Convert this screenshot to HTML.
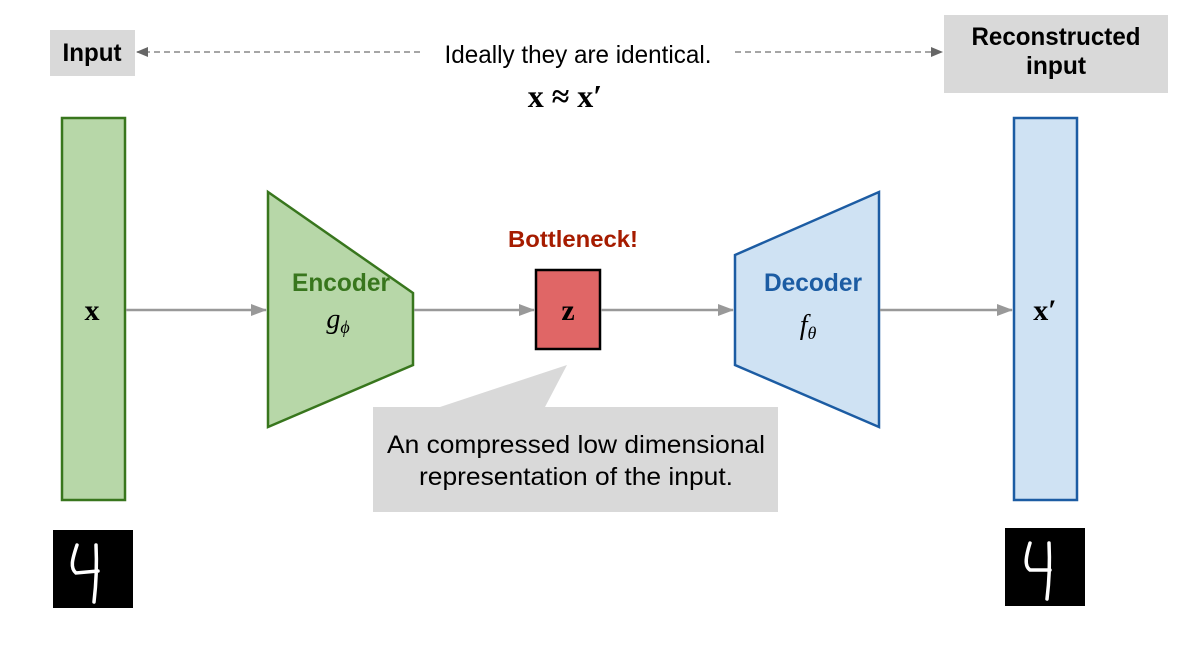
<!DOCTYPE html>
<html><head><style>
body{margin:0;background:#fff;width:1200px;height:647px;overflow:hidden}
svg text{font-family:"Liberation Sans",sans-serif}
.m{font-family:"Liberation Serif",serif}
</style></head><body>
<svg width="1200" height="647" viewBox="0 0 1200 647" xmlns="http://www.w3.org/2000/svg">
<defs>
<marker id="a" markerWidth="16" markerHeight="14" refX="15" refY="7" orient="auto" markerUnits="userSpaceOnUse"><path d="M0,1 L16,7 L0,13 z" fill="#999"/></marker>
<marker id="b" markerWidth="12" markerHeight="12" refX="11" refY="6" orient="auto" markerUnits="userSpaceOnUse"><path d="M0,1 L12,6 L0,11 z" fill="#666"/></marker>
</defs>
<rect x="50" y="30" width="85" height="46" fill="#d9d9d9"/>
<text x="92" y="61" text-anchor="middle" font-size="25" font-weight="bold" textLength="59" lengthAdjust="spacingAndGlyphs">Input</text>
<rect x="944" y="15" width="224" height="78" fill="#d9d9d9"/>
<text x="1056" y="45" text-anchor="middle" font-size="25" font-weight="bold" textLength="169" lengthAdjust="spacingAndGlyphs">Reconstructed</text>
<text x="1056" y="74" text-anchor="middle" font-size="25" font-weight="bold" textLength="60" lengthAdjust="spacingAndGlyphs">input</text>
<line x1="420" y1="52" x2="137" y2="52" stroke="#888" stroke-width="1.5" stroke-dasharray="6,4" marker-end="url(#b)"/>
<line x1="735" y1="52" x2="942" y2="52" stroke="#888" stroke-width="1.5" stroke-dasharray="6,4" marker-end="url(#b)"/>
<text x="578" y="63" text-anchor="middle" font-size="25" textLength="267" lengthAdjust="spacingAndGlyphs">Ideally they are identical.</text>
<text x="565" y="107" text-anchor="middle" font-size="32" font-weight="bold" class="m">x ≈ x′</text>
<rect x="62" y="118" width="63" height="382" fill="#b7d7a8" stroke="#38761d" stroke-width="2.5"/>
<text x="92" y="320" text-anchor="middle" font-size="30" font-weight="bold" class="m">x</text>
<rect x="1014" y="118" width="63" height="382" fill="#cfe2f3" stroke="#1c5ca3" stroke-width="2.5"/>
<text x="1045" y="320" text-anchor="middle" font-size="30" font-weight="bold" class="m">x′</text>
<polygon points="268,192 413,293 413,365 268,427" fill="#b7d7a8" stroke="#38761d" stroke-width="2.5"/>
<text x="341" y="291" text-anchor="middle" font-size="25" font-weight="bold" fill="#38761d" textLength="98" lengthAdjust="spacingAndGlyphs">Encoder</text>
<text x="338" y="328" text-anchor="middle" font-size="28" font-style="italic" class="m">g<tspan font-size="18" dy="5">ϕ</tspan></text>
<polygon points="735,255 879,192 879,427 735,365" fill="#cfe2f3" stroke="#1c5ca3" stroke-width="2.5"/>
<text x="813" y="291" text-anchor="middle" font-size="25" font-weight="bold" fill="#1c5ca3" textLength="98" lengthAdjust="spacingAndGlyphs">Decoder</text>
<text x="808" y="334" text-anchor="middle" font-size="28" font-style="italic" class="m">f<tspan font-size="18" dy="5">θ</tspan></text>
<text x="573" y="247" text-anchor="middle" font-size="23" font-weight="bold" fill="#a61c00" textLength="130" lengthAdjust="spacingAndGlyphs">Bottleneck!</text>
<rect x="536" y="270" width="64" height="79" fill="#e06666" stroke="#000" stroke-width="2.5"/>
<text x="568" y="320" text-anchor="middle" font-size="30" font-weight="bold" class="m">z</text>
<g stroke="#999" stroke-width="2.5" fill="none">
<line x1="126" y1="310" x2="266" y2="310" marker-end="url(#a)"/>
<line x1="414" y1="310" x2="534" y2="310" marker-end="url(#a)"/>
<line x1="601" y1="310" x2="733" y2="310" marker-end="url(#a)"/>
<line x1="880" y1="310" x2="1012" y2="310" marker-end="url(#a)"/>
</g>
<polygon points="373,407 440,407 567,365 545,407 778,407 778,512 373,512" fill="#d9d9d9"/>
<text x="576" y="453" text-anchor="middle" font-size="25" textLength="378" lengthAdjust="spacingAndGlyphs">An compressed low dimensional</text>
<text x="576" y="485" text-anchor="middle" font-size="25" textLength="314" lengthAdjust="spacingAndGlyphs">representation of the input.</text>
<rect x="53" y="530" width="80" height="78" fill="#000"/>
<path d="M77,545 C72,560 70,568 76,573 L98,571 M96,545 C97,565 96,585 94,602" stroke="#fff" stroke-width="3.5" fill="none" stroke-linecap="round"/>
<rect x="1005" y="528" width="80" height="78" fill="#000"/>
<path d="M1030,543 C1026,556 1024,566 1030,570 L1050,570 M1049,543 C1050,563 1049,583 1047,599" stroke="#fff" stroke-width="3.5" fill="none" stroke-linecap="round"/>
</svg>
</body></html>
